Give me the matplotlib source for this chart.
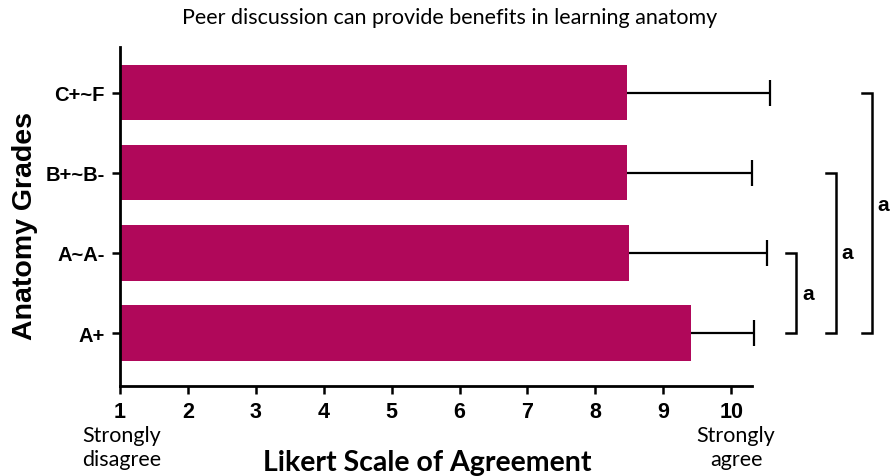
import matplotlib.pyplot as plt

# data (Likert means and upper error bars)
grades = ['A+', 'A~A-', 'B+~B-', 'C+~F']
means = [9.41, 8.49, 8.47, 8.47]
errors = [0.92, 2.04, 1.83, 2.10]
ticks = list(range(1, 11))
sig_labels = ['a', 'a', 'a']

bar_color = '#B0085A'

fig = plt.figure(figsize=(8.9, 4.77), dpi=100)
ax = fig.add_axes([0.1348, 0.1887, 0.7105, 0.7107])

ypos = list(range(len(grades)))
widths = [m - 1 for m in means]
ax.barh(ypos, widths, left=1, height=0.69, color=bar_color, zorder=2)
eb = ax.errorbar(means, ypos, xerr=[[0] * len(errors), errors], fmt='none',
                 ecolor='black', elinewidth=1.6, capsize=9.7, capthick=1.6, zorder=3)
# only the upper side is shown: hide the cap sitting on the bar end
eb[1][0].set_visible(False)
for art in list(eb[1]) + list(eb[2]):
    art.set_clip_on(False)

ax.set_xlim(1, 10.31)
ax.set_ylim(-0.66, 3.57)
ax.set_xticks(ticks)
ax.set_xticklabels([str(t) for t in ticks], fontfamily='Liberation Sans',
                   fontweight='bold', fontsize=15.5)
ax.set_yticks(ypos)
ax.set_yticklabels(grades, fontfamily='Liberation Sans', fontweight='bold',
                   fontsize=14.5)
ax.tick_params(axis='both', width=1.8, length=6, pad=5)

for s in ['top', 'right']:
    ax.spines[s].set_visible(False)
for s in ['left', 'bottom']:
    ax.spines[s].set_linewidth(2)

# significance brackets from A+ to each other group
bx = [10.96, 11.54, 12.07]
for k, (x, lab) in enumerate(zip(bx, sig_labels), start=1):
    ax.plot([x - 0.15, x, x, x - 0.15], [0, 0, k, k], color='black',
            lw=1.8, clip_on=False, solid_joinstyle='miter')
    ax.text(x + 0.17, k / 2 + (0.1 if k == 3 else 0), lab, fontfamily='Liberation Sans',
            fontweight='bold', fontsize=15, ha='center', va='center')

fig.text(0.028, 0.526, 'Anatomy Grades', rotation=90, ha='center', va='center',
         fontfamily='Liberation Sans', fontweight='bold', fontsize=20.5)
fig.text(0.505, 0.962, 'Peer discussion can provide benefits in learning anatomy',
         ha='center', va='center', fontfamily='Lato', fontsize=15.5)
fig.text(0.137, 0.060, 'Strongly\ndisagree', ha='center', va='center',
         fontfamily='Lato', fontsize=15.5, linespacing=1.25)
fig.text(0.827, 0.060, 'Strongly\nagree', ha='center', va='center',
         fontfamily='Lato', fontsize=15.5, linespacing=1.25)
fig.text(0.48, 0.029, 'Likert Scale of Agreement', ha='center', va='center',
         fontfamily='Lato', fontweight='bold', fontsize=20.5)

fig.savefig('out.png', dpi=100)
plt.close(fig)
